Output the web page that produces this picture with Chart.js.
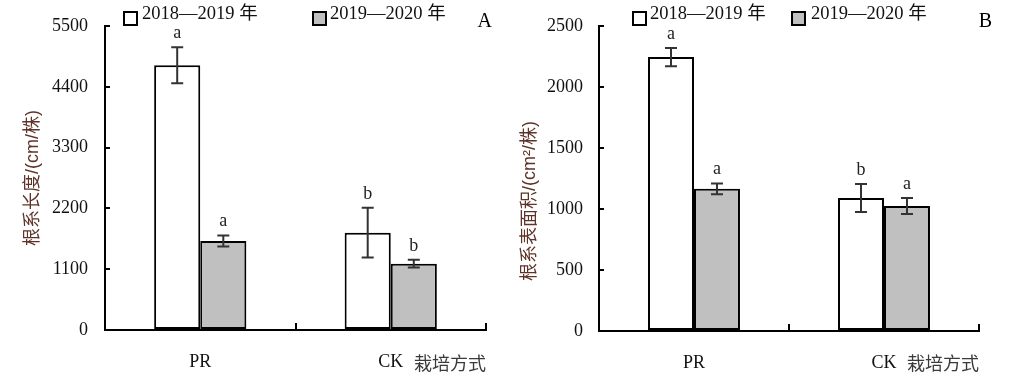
<!DOCTYPE html>
<html>
<head>
<meta charset="utf-8">
<script src="https://cdn.jsdelivr.net/npm/chart.js@4"></script>
<style>
    html, body { margin: 0; padding: 0; background: #ffffff; }
    .panel { position: absolute; top: 0; height: 378px; }
    #panelA { left: 0; width: 505px; }
    #panelB { left: 505px; width: 506px; }
</style>
</head>
<body>
<div class="panel" id="panelA"><canvas id="chartA" width="505" height="378"></canvas></div>
<div class="panel" id="panelB"><canvas id="chartB" width="506" height="378"></canvas></div>
<script>
const categories = ['PR', 'CK'];
const seriesLabels = ['2018—2019 年', '2019—2020 年'];
const seriesColors = ['#ffffff', '#c0c0c0'];

// A: root length (cm/plant)
const lengthY1 = [4790, 1760];
const lengthY2 = [1610, 1200];
const lengthErr1 = [325, 450];
const lengthErr2 = [100, 70];
const lengthSig1 = ['a', 'b'];
const lengthSig2 = ['a', 'b'];

// B: root surface area (cm2/plant)
const areaY1 = [2245, 1090];
const areaY2 = [1165, 1025];
const areaErr1 = [75, 115];
const areaErr2 = [45, 65];
const areaSig1 = ['a', 'b'];
const areaSig2 = ['a', 'a'];

const serif = "'Liberation Serif', 'Times New Roman', 'Noto Sans CJK SC', serif";
const cjk = "'Liberation Sans', 'Noto Sans CJK SC', sans-serif";

// error bars + significance letters
const errorBarPlugin = {
    id: 'errorBars',
    afterDatasetsDraw(chart) {
        const ctx = chart.ctx;
        const y = chart.scales.y;
        ctx.save();
        chart.data.datasets.forEach((ds, i) => {
            const meta = chart.getDatasetMeta(i);
            meta.data.forEach((bar, j) => {
                const v = ds.data[j];
                const e = ds.errors[j];
                const top = y.getPixelForValue(v + e);
                const bot = y.getPixelForValue(v - e);
                ctx.strokeStyle = '#333333';
                ctx.lineWidth = 2;
                ctx.beginPath();
                ctx.moveTo(bar.x, top); ctx.lineTo(bar.x, bot);
                ctx.moveTo(bar.x - 6, top); ctx.lineTo(bar.x + 6, top);
                ctx.moveTo(bar.x - 6, bot); ctx.lineTo(bar.x + 6, bot);
                ctx.stroke();
                ctx.fillStyle = '#222222';
                ctx.font = '18px ' + serif;
                ctx.textAlign = 'center';
                ctx.textBaseline = 'alphabetic';
                ctx.fillText(ds.letters[j], bar.x, top - 9);
            });
        });
        ctx.restore();
    }
};

// legend boxes and panel letter, drawn relative to the chart area
const legendPlugin = {
    id: 'panelLegend',
    afterDraw(chart, args, opts) {
        const ctx = chart.ctx;
        const left = chart.chartArea.left;
        ctx.save();
        chart.data.datasets.forEach((ds, i) => {
            const bx = left + opts.boxX[i];
            ctx.fillStyle = ds.backgroundColor;
            ctx.fillRect(bx, 12, 13, 13);
            ctx.strokeStyle = '#000000';
            ctx.lineWidth = 2;
            ctx.strokeRect(bx, 12, 13, 13);
            ctx.fillStyle = '#111111';
            ctx.font = '18.5px ' + serif;
            ctx.textAlign = 'left';
            ctx.textBaseline = 'alphabetic';
            ctx.fillText(ds.label, left + opts.textX[i], 18.5);
        });
        ctx.font = '20px ' + serif;
        ctx.textAlign = 'right';
        ctx.fillStyle = '#000000';
        ctx.fillText(opts.tag, chart.chartArea.right + opts.tagDx, 27);
        ctx.restore();
    }
};

function makeChart(id, cfg) {
    return new Chart(document.getElementById(id), {
        type: 'bar',
        data: {
            labels: categories,
            datasets: [0, 1].map(i => ({
                label: seriesLabels[i],
                data: cfg.values[i],
                errors: cfg.errors[i],
                letters: cfg.letters[i],
                backgroundColor: seriesColors[i],
                borderColor: '#000000',
                borderWidth: 2,
                borderSkipped: false,
                barPercentage: 1,
                categoryPercentage: 0.484
            }))
        },
        options: {
            responsive: false,
            animation: false,
            layout: { padding: { top: cfg.padTop, right: cfg.padRight, bottom: 0, left: 0 } },
            plugins: {
                legend: { display: false },
                tooltip: { enabled: false },
                panelLegend: { boxX: cfg.boxX, textX: cfg.textX, tag: cfg.tag, tagDx: cfg.tagDx }
            },
            scales: {
                x: {
                    afterFit: s => { s.height = cfg.xHeight; },
                    grid: { offset: true, drawOnChartArea: false, tickLength: -7, lineWidth: 2, color: '#000000' },
                    border: { color: '#000000', width: 2 },
                    ticks: { padding: 28, color: '#111111', font: { family: serif, size: 18 } },
                    title: {
                        display: true, text: '栽培方式', align: 'end', color: '#3a3a3a',
                        font: { family: cjk, size: 18 }, padding: { top: 0, bottom: 2 }
                    }
                },
                y: {
                    min: 0, max: cfg.max,
                    afterFit: s => { s.width = cfg.yWidth; s.paddingTop = 0; s.paddingBottom = 0; },
                    grid: { drawOnChartArea: false, tickLength: -5, lineWidth: 2, color: '#000000' },
                    border: { color: '#000000', width: 2 },
                    ticks: {
                        stepSize: cfg.step, padding: cfg.tickPad, color: '#111111',
                        font: { family: serif, size: 18 },
                        callback: v => String(v)
                    },
                    title: {
                        display: true, text: cfg.yTitle, color: '#5e3328',
                        font: { family: cjk, size: 18 }, padding: { top: cfg.titlePad, bottom: 0 }
                    }
                }
            }
        },
        plugins: [errorBarPlugin, legendPlugin]
    });
}

makeChart('chartA', {
    values: [lengthY1, lengthY2], errors: [lengthErr1, lengthErr2], letters: [lengthSig1, lengthSig2],
    max: 5500, step: 1100, yTitle: '根系长度/(cm/株)',
    yWidth: 105, padTop: 26, padRight: 19, xHeight: 48, tickPad: 22, titlePad: 22,
    boxX: [19, 208], textX: [37, 225], tag: 'A', tagDx: 6
});

makeChart('chartB', {
    values: [areaY1, areaY2], errors: [areaErr1, areaErr2], letters: [areaSig1, areaSig2],
    max: 2500, step: 500, yTitle: '根系表面积/(cm²/株)\u3000\u3000\u2002',
    yWidth: 94, padTop: 26, padRight: 32, xHeight: 47, tickPad: 21, titlePad: 14,
    boxX: [34, 193], textX: [51, 212], tag: 'B', tagDx: 13
});
</script>
</body>
</html>
